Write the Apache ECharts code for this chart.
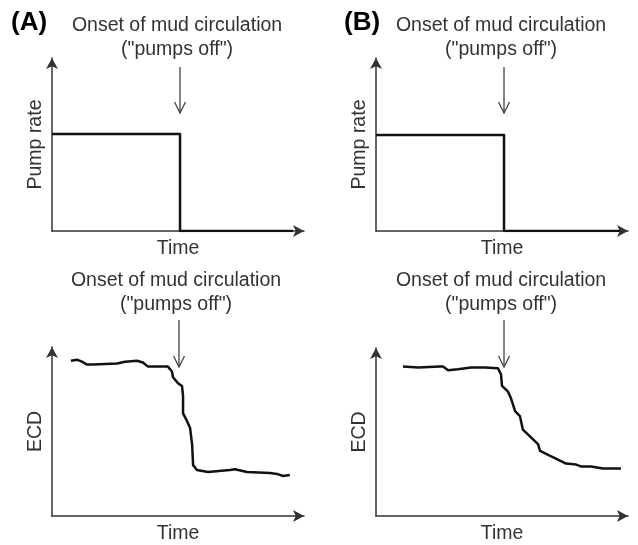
<!DOCTYPE html>
<html>
<head>
<meta charset="utf-8">
<script src="https://cdn.jsdelivr.net/npm/echarts@6/dist/echarts.min.js"></script>
<style>
  html, body { margin: 0; padding: 0; background: #fff; }
  #chart { width: 638px; height: 545px; }
</style>
</head>
<body>
<div id="chart"></div>
<script>
// time and level in percent of each plot area
const pumpTimeA = [0, 50.8, 50.8, 95.6]
const pumpRateA = [56.1, 56.1, 0, 0]
const pumpTimeB = [0, 50.8, 50.8, 96.8]
const pumpRateB = [55.5, 55.5, 0, 0]

const ecdTimeA = [7.5, 9.9, 11.9, 13.9, 16.3, 25.8, 29.0, 33.7, 36.1, 38.1, 41.7, 46.0, 47.6, 48.0, 50.0, 51.6, 52.0, 52.0, 53.6, 54.8, 55.6, 56.0, 57.5, 61.9, 70.6, 72.6, 77.4, 86.5, 89.3, 91.7, 94.4]
const ecdA = [91.9, 92.5, 91.3, 89.6, 89.6, 90.2, 91.3, 91.9, 90.8, 88.4, 88.4, 88.4, 85.5, 82.1, 78.6, 76.9, 71.1, 60.7, 56.1, 52.0, 42.2, 30.1, 27.2, 26.0, 27.2, 27.7, 26.0, 25.4, 24.9, 23.7, 24.3]

const ecdTimeB = [10.7, 16.7, 25.4, 26.6, 28.6, 32.5, 37.7, 43.3, 48.4, 49.6, 50.0, 52.4, 53.6, 55.2, 57.1, 58.3, 61.5, 64.3, 65.1, 68.3, 72.2, 75.4, 79.4, 81.3, 85.3, 90.1, 93.3, 97.2]
const ecdB = [89.0, 88.4, 89.0, 89.0, 86.7, 87.3, 88.4, 88.4, 87.9, 84.4, 77.5, 74.0, 69.9, 62.4, 59.5, 51.4, 46.8, 42.8, 38.7, 36.4, 33.5, 31.2, 30.6, 29.5, 29.5, 28.3, 28.3, 28.3]

const onsetTime = [50.8, 50.8, 50.4, 50.8]
const panelLabels = ['(A)', '(B)']
const yNames = ['Pump rate', 'Pump rate', 'ECD', 'ECD']
const onsetText = 'Onset of mud circulation\n("pumps off")'

const FONT = 'Liberation Sans, Arial, sans-serif'
const FS = 19.5

const grids = [
  { left: 52, top: 58, width: 252, height: 173 },
  { left: 376, top: 58, width: 252, height: 173 },
  { left: 52, top: 347, width: 252, height: 173 },
  { left: 376, top: 348, width: 252, height: 173 }
]

const axisLine = {
  show: true,
  symbol: ['none', 'arrow'],
  symbolSize: [9, 11],
  lineStyle: { color: '#333', width: 1.5 }
}

const xAxes = grids.map((g, i) => ({
  type: 'value', gridIndex: i, min: 0, max: 100,
  axisLine: axisLine,
  axisTick: { show: false }, axisLabel: { show: false }, splitLine: { show: false },
  name: 'Time', nameLocation: 'middle', nameGap: 8,
  nameTextStyle: { fontFamily: FONT, fontSize: FS, color: '#333', verticalAlign: 'top' }
}))

const yAxes = grids.map((g, i) => ({
  type: 'value', gridIndex: i, min: 0, max: 100,
  axisLine: axisLine,
  axisTick: { show: false }, axisLabel: { show: false }, splitLine: { show: false },
  name: yNames[i], nameLocation: 'middle', nameGap: 6,
  nameTextStyle: { fontFamily: FONT, fontSize: FS, color: '#333', verticalAlign: 'bottom' }
}))

const lineStyle = { color: '#111', width: 2.5, join: 'round' }
const seriesData = [
  pumpTimeA.map((t, i) => [t, pumpRateA[i]]),
  pumpTimeB.map((t, i) => [t, pumpRateB[i]]),
  ecdTimeA.map((t, i) => [t, ecdA[i]]),
  ecdTimeB.map((t, i) => [t, ecdB[i]])
]

const series = seriesData.map((d, i) => ({
  type: 'line', xAxisIndex: i, yAxisIndex: i,
  data: d, showSymbol: false, smooth: false,
  lineStyle: lineStyle, silent: true, animation: false
}))

const chart = echarts.init(document.getElementById('chart'), null, { renderer: 'canvas' })
chart.setOption({
  backgroundColor: '#fff',
  animation: false,
  grid: grids,
  xAxis: xAxes,
  yAxis: yAxes,
  series: series
})

// annotations: panel letters, onset text and arrows placed from the onset time
const graphics = []
panelLabels.forEach((lab, i) => {
  graphics.push({
    type: 'text', left: i === 0 ? 11 : 344, top: 10,
    style: { text: lab, font: 'bold 26px ' + FONT, fill: '#000' }
  })
})
grids.forEach((g, i) => {
  const px = chart.convertToPixel({ gridIndex: i }, [onsetTime[i], 0])[0]
  const topRow = i < 2
  const textY = topRow ? 14 : 269
  const arrowTop = topRow ? 67 : 320
  const arrowTip = topRow ? 113 : 367
  graphics.push({
    type: 'text', x: px - 3, y: textY,
    style: {
      text: onsetText, font: FS + 'px ' + FONT, fill: '#333',
      align: 'center', lineHeight: 24
    }
  })
  graphics.push({
    type: 'line',
    shape: { x1: px, y1: arrowTop, x2: px, y2: arrowTip },
    style: { stroke: '#444', lineWidth: 1.3 }
  })
  graphics.push({
    type: 'polyline',
    shape: { points: [[px - 5.5, arrowTip - 11], [px, arrowTip], [px + 5.5, arrowTip - 11]] },
    style: { stroke: '#444', lineWidth: 1.3, fill: null }
  })
})
chart.setOption({ graphic: graphics })
</script>
</body>
</html>
